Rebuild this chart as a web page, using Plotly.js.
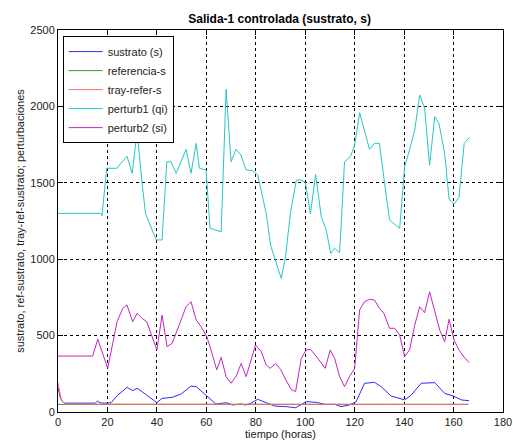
<!DOCTYPE html>
<html>
<head>
<meta charset="utf-8">
<script src="https://cdn.plot.ly/plotly-3.0.1.min.js"></script>
<style>html,body{margin:0;padding:0;background:#fff;}#chart{width:513px;height:441px;}</style>
</head>
<body>
<div id="chart"></div>
<script>
// sustrato (s)
const tSustrato = [0,0.5,1,2,2.6,15,16,17,20,21.5,24.2,27.9,30.2,32,34,40,42.1,46.2,49.8,53.8,55.9,60.2,63.9,68,70.6,74,76,78,80.8,84.2,87.6,92.3,96.1,98,100.4,104.5,107.9,112,114.5,117.9,120.6,124,128,130.7,134.7,140.2,142.9,146.9,152.4,156.4,159.8,163.2,166.3];
const vSustrato = [160,120,90,65,58,58,72,60,57,61,111,161,140,155,133,61,89,96,118,170,166,105,52,61,46,52,46,57,83,61,39,35,28,45,68,63,50,50,35,46,68,188,194,166,105,79,111,188,192,122,105,79,74];
// referencia-s
const tReferencia = [0,166];
const vReferencia = [50,50];
// tray-refer-s
const tTray = [0,0.5,1,1.5,2,3,4,166];
const vTray = [190,140,105,80,65,55,51,50];
// perturb1 (qi)
const tPerturb1 = [0,17.4,17.8,19.7,23.8,27.9,30,32,34,35.4,39.7,42.1,44,45.7,47.8,51.8,53.8,55.9,57.2,59.9,61.5,66,68,70,72,74,76.1,78.8,80.8,84.2,86,88,90.3,92,94,96.4,98.4,100.1,102.1,104.2,106.5,108.5,110.3,111.9,113.9,114.8,115.9,118.3,120,122,124,126,128,130,132.1,134.1,138.2,140.2,142.2,144.3,146.3,148.3,150.3,152.4,154.1,156.4,158.2,160.2,162.2,164.3,166.5];
const vPerturb1 = [1300,1300,1283,1595,1595,1675,1562,1839,1497,1300,1126,1126,1638,1638,1562,1719,1562,1758,1595,1584,1202,1180,2112,1638,1719,1682,1584,1580,1551,1300,1090,990,875,1010,1300,1518,1518,1501,1296,1555,1278,1191,1038,1071,1043,1300,1638,1671,1747,1959,1846,1719,1758,1758,1497,1257,1202,1605,1715,1846,2075,1988,1616,1933,1889,1693,1392,1361,1405,1758,1798];
// perturb2 (si)
const tPerturb2 = [0,14,16.1,20.1,23.9,26.2,27.9,30.2,32,34,35.9,40,42.1,44.1,46.2,49.8,51.8,53.8,55.9,57.9,60.2,61.9,64.2,66,68,70,72.1,74.1,76.1,79.9,82.2,84.2,85.8,88,90,92,94.3,96.1,98.4,100.4,102.1,105.1,108.1,110.1,111.9,113.9,115.9,117.9,120,122,124,126,128,130,131.8,134.1,136.2,138.2,140.2,142.2,144.3,146.3,148.3,150.3,152.4,154.4,156.4,158.2,160.2,162.2,164.3,166.3];
const vPerturb2 = [366,366,476,286,591,679,700,591,646,613,591,406,635,428,450,602,689,722,602,558,493,406,275,358,231,188,236,318,231,438,395,308,286,316,280,215,148,133,351,406,410,351,286,406,351,231,166,231,286,668,722,737,733,679,646,548,548,504,362,406,569,689,650,787,668,537,460,607,471,406,358,323];

const xTicks = [0,20,40,60,80,100,120,140,160,180];
const yTicks = [0,500,1000,1500,2000,2500];

const names = ['sustrato (s)','referencia-s','tray-refer-s','perturb1 (qi)','perturb2 (si)'];
const colors = ['#2a2aff','#2e9a2e','#ff6a6a','#26c6c6','#c226c2'];
const xs = [tSustrato,tReferencia,tTray,tPerturb1,tPerturb2];
const ys = [vSustrato,vReferencia,vTray,vPerturb1,vPerturb2];

const traces = names.map((n,i)=>({
  x: xs[i], y: ys[i], name: n, type:'scatter', mode:'lines',
  line:{color:colors[i], width:1}
}));

const font = {family:'Liberation Sans, Arial, sans-serif', size:11, color:'#222'};
const axisCommon = {
  ticks:'inside', ticklen:5, tickcolor:'#000', showline:true, mirror:'ticks',
  linecolor:'#000', linewidth:1, showgrid:true, gridcolor:'#000', griddash:'dot',
  gridwidth:1, zeroline:false, tickfont:font
};
const layout = {
  width:513, height:441,
  margin:{l:58, r:10, t:30, b:29},
  paper_bgcolor:'#fff', plot_bgcolor:'#fff',
  font: font,
  title:{text:'<b>Salida-1 controlada (sustrato, s)</b>', x:0.545, xanchor:'center', y:1-19/441, yanchor:'middle', font:{family:'Liberation Sans, Arial, sans-serif', size:12, color:'#000'}},
  xaxis: Object.assign({}, axisCommon, {range:[0,180], tickvals:xTicks, ticktext:xTicks.map(String),
    title:{text:'tiempo (horas)', standoff:3, font:font}}),
  yaxis: Object.assign({}, axisCommon, {range:[0,2500], tickvals:yTicks, ticktext:yTicks.map(String),
    title:{text:'sustrato, ref-sustrato, tray-ref-sustrato; perturbaciones', standoff:3, font:font}}),
  showlegend:true,
  legend:{x:0.0105, y:0.984, xanchor:'left', yanchor:'top', bgcolor:'#fff', bordercolor:'#000', borderwidth:1,
    font:font, tracegroupgap:0, itemwidth:34}
};
Plotly.newPlot('chart', traces, layout, {staticPlot:true, displayModeBar:false});
</script>
</body>
</html>
